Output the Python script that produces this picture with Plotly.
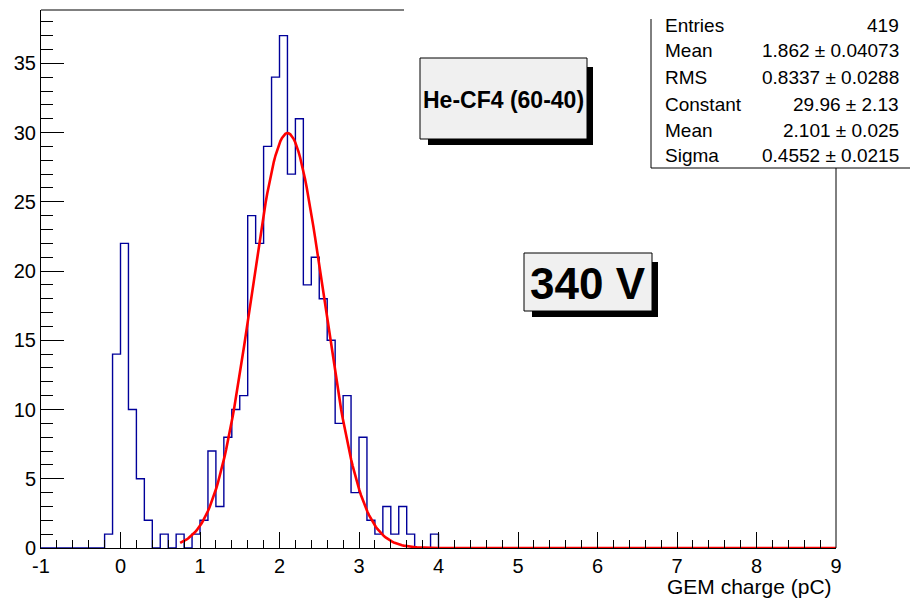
import numpy as np
import plotly.graph_objs as go

# histogram: 100 bins of 0.1 from -1 to 9, only the filled part is listed
bin_width = 0.1
first_bin = -0.2
counts = [1, 14, 22, 10, 5, 2, 0, 1, 0, 1,
          0, 1, 2, 7, 3, 8, 10, 11, 24, 22,
          29, 34, 37, 27, 31, 19, 21, 18, 15, 9,
          11, 4, 8, 2, 1, 3, 1, 3, 1, 0,
          0, 1]

# gaus fit parameters (from the stats box)
fit_const, fit_mean, fit_sigma = 29.96, 2.101, 0.4552
fit_range = (0.75, 9.0)

stat_names = ['Entries', 'Mean', 'RMS', 'Constant', 'Mean', 'Sigma']
stat_values = ['419', '1.862 \u00b1 0.04073', '0.8337 \u00b1 0.0288',
               '29.96 \u00b1 2.13', '2.101 \u00b1 0.025', '0.4552 \u00b1 0.0215']

x_ticks = list(range(-1, 10))
x_labels = [str(v) for v in x_ticks]
y_ticks = list(range(0, 40, 5))

FONT = 'Liberation Sans, Arial, Helvetica, sans-serif'

# frame in pixels
L, R, T, B = 41, 836, 10, 548


def px(x):
    return (x - L) / (R - L)


def py(y):
    return (B - y) / (B - T)


# full histogram
edges = np.round(np.arange(-1, 9 + bin_width / 2, bin_width), 2)
full = np.zeros(len(edges) - 1)
i0 = int(round((first_bin + 1) / bin_width))
full[i0:i0 + len(counts)] = counts
step_y = list(full) + [full[-1]]

xf = np.linspace(fit_range[0], fit_range[1], 400)
yf = fit_const * np.exp(-0.5 * ((xf - fit_mean) / fit_sigma) ** 2)

fig = go.Figure()
fig.add_trace(go.Scatter(x=edges, y=step_y, mode='lines', line_shape='hv',
                         line=dict(color='#00009a', width=1.4), hoverinfo='skip'))
fig.add_trace(go.Scatter(x=xf, y=yf, mode='lines',
                         line=dict(color='#ff0000', width=2.6), hoverinfo='skip'))

shapes = []
annotations = []


def line(x0, y0, x1, y1):
    shapes.append(dict(type='line', xref='paper', yref='paper',
                       x0=px(x0), y0=py(y0), x1=px(x1), y1=py(y1),
                       line=dict(color='black', width=1)))


# partial top frame and right frame below the stats box
line(L, T, 404, T)
line(R, 168, R, B)

# stats box
shapes.append(dict(type='rect', xref='paper', yref='paper',
                   x0=px(651), y0=py(168), x1=px(912), y1=py(19),
                   fillcolor='white', line=dict(width=0)))
line(651, 19, 651, 168)
line(651, 168, 912, 168)
row_y = [26, 51, 78, 104, 130, 155]
for name, val, yy in zip(stat_names, stat_values, row_y):
    annotations.append(dict(x=px(663), y=py(yy), xref='paper', yref='paper',
                            text=name, showarrow=False, xanchor='left', yanchor='middle',
                            font=dict(family=FONT, size=19, color='black')))
    annotations.append(dict(x=px(901), y=py(yy), xref='paper', yref='paper',
                            text=val, showarrow=False, xanchor='right', yanchor='middle',
                            font=dict(family=FONT, size=19, color='black')))


def pave(x0, y0, x1, y1, text, size):
    shapes.append(dict(type='rect', xref='paper', yref='paper',
                       x0=px(x0 + 8), y0=py(y1 + 6), x1=px(x1 + 6), y1=py(y0 + 9),
                       fillcolor='black', line=dict(width=0)))
    shapes.append(dict(type='rect', xref='paper', yref='paper',
                       x0=px(x0), y0=py(y1), x1=px(x1), y1=py(y0),
                       fillcolor='#f0f0f0', line=dict(color='black', width=1)))
    annotations.append(dict(x=px((x0 + x1) / 2), y=py((y0 + y1) / 2 + 1),
                            xref='paper', yref='paper', text='<b>%s</b>' % text,
                            showarrow=False, xanchor='center', yanchor='middle',
                            font=dict(family=FONT, size=size, color='black')))


pave(420, 58, 587, 139, 'He-CF4 (60-40)', 23)
pave(524, 253, 652, 311, '340 V', 44)

# x axis title, right aligned
annotations.append(dict(x=px(834), y=py(586), xref='paper', yref='paper',
                        text='GEM charge (pC)', showarrow=False,
                        xanchor='right', yanchor='middle',
                        font=dict(family=FONT, size=21, color='black')))

fig.update_layout(
    width=910, height=598, autosize=False,
    margin=dict(l=L, r=910 - R, t=T, b=598 - B),
    paper_bgcolor='white', plot_bgcolor='white',
    showlegend=False,
    font=dict(family=FONT, size=20, color='black'),
    shapes=shapes, annotations=annotations,
    xaxis=dict(range=[-1, 9], tickvals=x_ticks, ticktext=x_labels, ticks='inside',
               ticklen=16, tickcolor='black', tickwidth=1, showgrid=False,
               zeroline=False, showline=True, linecolor='black', linewidth=1,
               layer='above traces',
               tickfont=dict(family=FONT, size=20, color='black'),
               minor=dict(ticks='inside', ticklen=8, dtick=0.2, tick0=-1,
                          tickcolor='black', tickwidth=1, showgrid=False)),
    yaxis=dict(range=[0, max(counts) * 1.05], tickvals=y_ticks, ticks='inside',
               ticklen=23, tickcolor='black', tickwidth=1, showgrid=False,
               zeroline=False, showline=True, linecolor='black', linewidth=1,
               layer='above traces',
               tickfont=dict(family=FONT, size=20, color='black'),
               minor=dict(ticks='inside', ticklen=12, dtick=1, tick0=0,
                          tickcolor='black', tickwidth=1, showgrid=False)),
)

fig.write_html("out.html", config={'displayModeBar': False},
               post_script="document.body.style.margin='0';")
